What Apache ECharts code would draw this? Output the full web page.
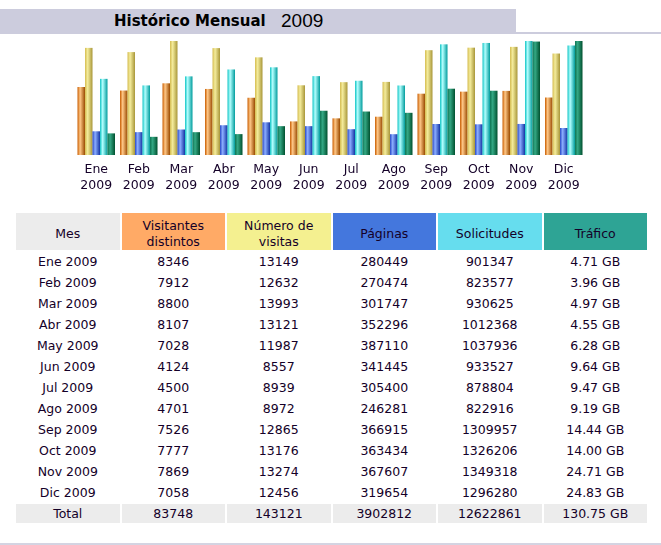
<!DOCTYPE html>
<html>
<head>
<meta charset="utf-8">
<script src="https://cdn.jsdelivr.net/npm/echarts@6/dist/echarts.min.js"></script>
<style>
body{margin:0;background:#fff;font-family:"DejaVu Sans",Verdana,sans-serif;color:#140028;}
#top{position:absolute;left:0;top:9px;width:661px;height:23px;border-bottom:2px solid #CCCCDD;}
#titulo{position:absolute;left:0;top:0;width:516px;height:25px;background:#CCCCDD;}
#titulo .t1{position:absolute;left:114px;top:3px;font-weight:bold;font-size:15px;color:#000;}
#titulo .t2{position:absolute;left:281px;top:1px;font-family:"Liberation Sans",Arial,sans-serif;font-size:19px;color:#000;}
#grafico{position:absolute;left:0;top:0;width:661px;height:200px;}
#tabla{position:absolute;left:14px;top:211px;border-collapse:separate;border-spacing:2px;font-size:12.5px;}
#tabla td{width:103.5px;height:19px;padding:0;text-align:center;}
#tabla tr.cab td{height:33px;padding-top:4px;line-height:16px;}
#tabla tr.tot td{background:#ECECEC;}
#pie{position:absolute;left:0;top:543px;width:661px;height:2px;background:#D4D4E2;}
</style>
</head>
<body>
<div id="top"><div id="titulo"><span class="t1">Histórico Mensual</span><span class="t2">2009</span></div></div>
<div id="grafico"></div>
<table id="tabla"></table>
<div id="pie"></div>
<script>
var anio = '2009';
var meses = ['Ene','Feb','Mar','Abr','May','Jun','Jul','Ago','Sep','Oct','Nov','Dic'];
var visitantes = [8346, 7912, 8800, 8107, 7028, 4124, 4500, 4701, 7526, 7777, 7869, 7058];
var visitas = [13149, 12632, 13993, 13121, 11987, 8557, 8939, 8972, 12865, 13176, 13274, 12456];
var paginas = [280449, 270474, 301747, 352296, 387110, 341445, 305400, 246281, 366915, 363434, 367607, 319654];
var solicitudes = [901347, 823577, 930625, 1012368, 1037936, 933527, 878804, 822916, 1309957, 1326206, 1349318, 1296280];
var trafico = [4.71, 3.96, 4.97, 4.55, 6.28, 9.64, 9.47, 9.19, 14.44, 14.00, 24.71, 24.83];
var totales = ['83748', '143121', '3902812', '12622861', '130.75 GB'];

//degradado tipo cilindro
function cilindro(c1, c2, c3){
  return new echarts.graphic.LinearGradient(0, 0, 1, 0, [
    {offset: 0, color: c1},
    {offset: 0.35, color: c2},
    {offset: 1, color: c3}
  ]);
}

var grafico = echarts.init(document.getElementById('grafico'));
var option = {
  animation: false,
  grid: {left: 75, top: 41, width: 510, height: 114},
  xAxis: {
    type: 'category',
    data: meses,
    axisLine: {show: false},
    axisTick: {show: false},
    axisLabel: {
      margin: 7,
      color: '#140028',
      fontFamily: 'DejaVu Sans',
      fontSize: 12.5,
      lineHeight: 16,
      formatter: function(v){ return v + '\n' + anio; }
    }
  },
  yAxis: [
    {type: 'value', min: 0, max: 'dataMax', show: false},
    {type: 'value', min: 0, max: 'dataMax', show: false},
    {type: 'value', min: 0, max: 'dataMax', show: false}
  ],
  series: [
    {name: 'Visitantes distintos', type: 'bar', yAxisIndex: 0, barWidth: 7.5, barGap: '0%', data: visitantes,
     itemStyle: {color: cilindro('#C85C00', '#FFC888', '#9A4A00')}},
    {name: 'Número de visitas', type: 'bar', yAxisIndex: 0, barWidth: 7.5, barGap: '0%', data: visitas,
     itemStyle: {color: cilindro('#D4BC50', '#F4EC9C', '#A89638')}},
    {name: 'Páginas', type: 'bar', yAxisIndex: 1, barWidth: 7.5, barGap: '0%', data: paginas,
     itemStyle: {color: cilindro('#2848C8', '#8CAEFF', '#1434A4')}},
    {name: 'Solicitudes', type: 'bar', yAxisIndex: 1, barWidth: 7.5, barGap: '0%', data: solicitudes,
     itemStyle: {color: cilindro('#10C4C4', '#B4FFFF', '#009C9C')}},
    {name: 'Tráfico', type: 'bar', yAxisIndex: 2, barWidth: 7.5, barGap: '0%', data: trafico,
     itemStyle: {color: cilindro('#0E7452', '#34A884', '#00502E')}}
  ]
};
grafico.setOption(option);

//tabla
var cab = [['Mes', '#ECECEC'], ['Visitantes<br>distintos', '#FFAA66'], ['Número de<br>visitas', '#F4F090'],
           ['Páginas', '#4477DD'], ['Solicitudes', '#66DDEE'], ['Tráfico', '#2EA495']];
var html = '<tr class="cab">';
cab.forEach(function(c){ html += '<td style="background:' + c[1] + '">' + c[0] + '</td>'; });
html += '</tr>';
meses.forEach(function(m, i){
  html += '<tr><td>' + m + ' ' + anio + '</td><td>' + visitantes[i] + '</td><td>' + visitas[i] + '</td><td>' +
    paginas[i] + '</td><td>' + solicitudes[i] + '</td><td>' + trafico[i].toFixed(2) + ' GB</td></tr>';
});
html += '<tr class="tot"><td>Total</td>';
totales.forEach(function(t){ html += '<td>' + t + '</td>'; });
html += '</tr>';
document.getElementById('tabla').innerHTML = html;
</script>
</body>
</html>
